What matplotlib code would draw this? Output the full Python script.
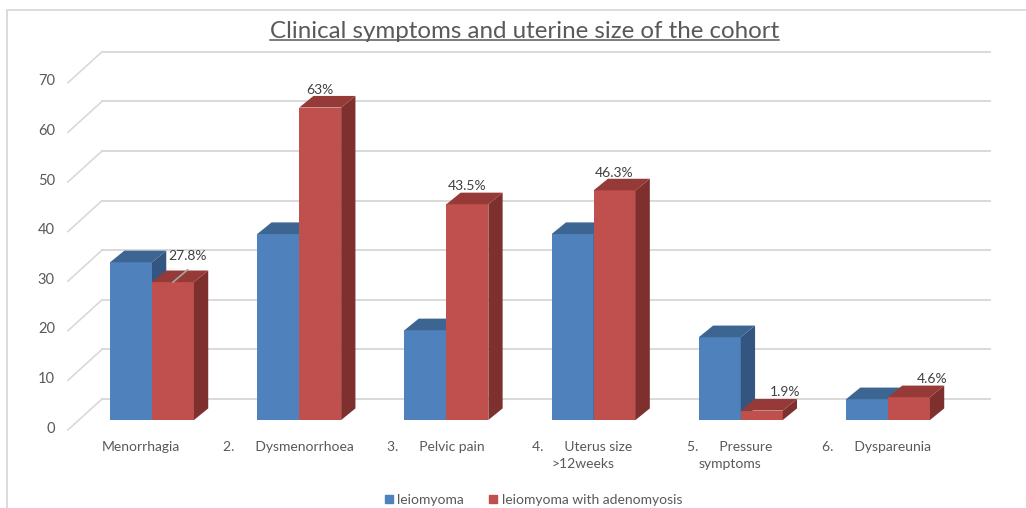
import numpy as np
import matplotlib.pyplot as plt
from matplotlib.patches import Polygon, Patch, Rectangle
from matplotlib.lines import Line2D

plt.rcParams['font.family'] = ['Lato', 'DejaVu Sans']

# Data
categories = ['Menorrhagia', '2.      Dysmenorrhoea', '3.      Pelvic pain',
              '4.      Uterus size\n>12weeks', '5.      Pressure\nsymptoms',
              '6.      Dyspareunia']
leiomyoma = [31.8, 37.5, 18.1, 37.5, 16.7, 4.2]
adenomyosis = [27.8, 63, 43.5, 46.3, 1.9, 4.6]
adeno_labels = ['27.8%', '63%', '43.5%', '46.3%', '1.9%', '4.6%']
yticks = [0, 10, 20, 30, 40, 50, 60, 70]

# colours (front, top, side)
blue = ('#4F81BD', '#3D6592', '#34557F')
red = ('#C0504D', '#953A37', '#7D302E')
grid_c = '#D9D9D9'
text_c = '#595959'

fig = plt.figure(figsize=(10.26, 5.08), dpi=100)
ax = fig.add_axes([0, 0, 1, 1])
# axes fills the figure; limits chosen so one category = 147 px, 10 units ~ 50 px
ax.set_xlim(-1.0326, 5.9375)
ax.set_ylim(-17.74, 84.68)
ax.axis('off')

w = 0.285      # bar width
dx, dy = 0.097, 2.34   # 3d depth offset
back = 4.23    # back wall shift

# back wall grid + side wall diagonals
for v in yticks:
    ax.plot([-0.34, 5.69], [v + back, v + back], color=grid_c, lw=1.4, zorder=1)
    ax.plot([-0.571, -0.34], [v - 2, v + back], color=grid_c, lw=1.2, zorder=1)
    ax.text(-0.66, v - 1.75, str(v), ha='right', va='center',
            fontsize=10.5, color=text_c)

x = np.arange(len(categories))


def bar3d(x0, h, cols, z):
    x1 = x0 + w
    ax.add_patch(Polygon([(x1, 0), (x1 + dx, dy), (x1 + dx, h + dy), (x1, h)],
                         closed=True, fc=cols[2], ec='none', zorder=z))
    ax.add_patch(Polygon([(x0, h), (x1, h), (x1 + dx, h + dy), (x0 + dx, h + dy)],
                         closed=True, fc=cols[1], ec='none', zorder=z))


ax.bar(x - w, leiomyoma, width=w, align='edge', color=blue[0], zorder=3)
for xi, h in zip(x, leiomyoma):
    bar3d(xi - w, h, blue, 3)
for xi, h in zip(x, adenomyosis):
    ax.bar(xi, h, width=w, align='edge', color=red[0], zorder=4)
    bar3d(xi, h, red, 4)

# data labels for the adenomyosis series
lab_off = [(0.10, 2.9), (0, 1.2), (0, 1.3), (0, 1.2), (0.16, 1.4), (0.16, 1.4)]
for i, (xi, h, s) in enumerate(zip(x, adenomyosis, adeno_labels)):
    ox, oy = lab_off[i]
    cx = xi + w / 2
    if i == 0:
        ax.plot([cx, cx + ox], [h, h + 2.5], color='#A6A6A6', lw=1.2, zorder=6)
    ax.text(cx + ox, h + dy + oy, s, ha='center', va='center',
            fontsize=10, color='#404040', zorder=7)

# category labels
lab_shift = -0.075
for xi, c in zip(x, categories):
    ax.text(xi + lab_shift, -4.3, c, ha='center', va='top', fontsize=10,
            color=text_c, linespacing=1.45, multialignment='center')

# title with underline
t = fig.text(0.511, 0.938, 'Clinical symptoms and uterine size of the cohort',
             ha='center', va='center', fontsize=17.4, color=text_c)
fig.canvas.draw()
bb = t.get_window_extent(fig.canvas.get_renderer()).transformed(fig.transFigure.inverted())
fig.add_artist(Line2D([bb.x0, bb.x1], [bb.y0 + 0.004, bb.y0 + 0.004],
                      color=text_c, lw=1.1, transform=fig.transFigure))

# chart border
fig.add_artist(Rectangle((7 / 1026, -0.05), 1.1, 1.05 - 10 / 508,
                         transform=fig.transFigure, fill=False, ec=grid_c, lw=1.3))

handles = [Patch(color=blue[0], label='leiomyoma'),
           Patch(color=red[0], label='leiomyoma with adenomyosis')]
fig.legend(handles=handles, loc='center', bbox_to_anchor=(0.52, 0.016), ncol=2,
           frameon=False, fontsize=10, handlelength=0.6, handleheight=0.6,
           handletextpad=0.3, columnspacing=1.8, labelcolor=text_c)

fig.savefig('out.png', dpi=100, facecolor='white')
